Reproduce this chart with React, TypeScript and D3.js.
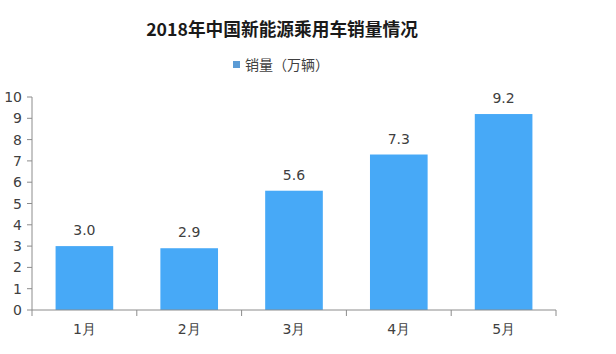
import React from "react";
import * as d3 from "d3";

const categories = ["1月", "2月", "3月", "4月", "5月"];
const values = [3.0, 2.9, 5.6, 7.3, 9.2];
const yTicks = [0, 1, 2, 3, 4, 5, 6, 7, 8, 9, 10];
const title = "2018年中国新能源乘用车销量情况";
const seriesName = "销量（万辆）";

export default function App() {
  const W = 616, H = 354;
  const left = 32, right = 556, top = 97, bottom = 310;
  const x = d3.scaleBand<string>().domain(categories).range([left, right]).paddingInner(0.45).paddingOuter(0.225);
  const y = d3.scaleLinear().domain([0, 10]).range([bottom, top]);
  const bandStep = (right - left) / categories.length;
  const numFont = "'DejaVu Sans', Verdana, sans-serif";
  const cjkFont = "'Noto Sans CJK SC', sans-serif";
  const axisColor = "#8c8c8c";
  const textColor = "#404040";
  return (
    <svg width={W} height={H} style={{ position: "absolute", left: 0, top: 0, background: "#fff" }}>
      <text x={282} y={36} textAnchor="middle" fontFamily={cjkFont} fontWeight="bold" fontSize={17.7} fill="#1a1a1a">{title}</text>
      <rect x={233} y={61} width={7} height={7} fill="#5b9bd5" />
      <text x={245} y={70} fontFamily={cjkFont} fontSize={14} fill={textColor}>{seriesName}</text>
      {values.map((v, i) => (
        <g key={i}>
          <rect x={x(categories[i])} y={y(v)} width={x.bandwidth()} height={bottom - y(v)} fill="#47a9f7" />
          <text x={(x(categories[i]) as number) + x.bandwidth() / 2} y={y(v) - 11} textAnchor="middle" fontFamily={numFont} fontSize={14} fill={textColor}>{v.toFixed(1)}</text>
        </g>
      ))}
      <line x1={left} y1={top} x2={left} y2={bottom + 6} stroke={axisColor} strokeWidth={1} />
      <line x1={left} y1={bottom} x2={right} y2={bottom} stroke={axisColor} strokeWidth={1} />
      {yTicks.map((t) => (
        <g key={t}>
          <line x1={left - 5} x2={left} y1={y(t)} y2={y(t)} stroke={axisColor} />
          <text x={22} y={y(t) + 5} textAnchor="end" fontFamily={numFont} fontSize={14} fill={textColor}>{t}</text>
        </g>
      ))}
      {categories.map((c, i) => (
        <g key={c}>
          <line x1={left + bandStep * (i + 1)} x2={left + bandStep * (i + 1)} y1={bottom} y2={bottom + 6} stroke={axisColor} />
          <text x={(x(c) as number) + x.bandwidth() / 2} y={334} textAnchor="middle" fontFamily={numFont} fontSize={14} fill={textColor}>{c}</text>
        </g>
      ))}
    </svg>
  );
}
